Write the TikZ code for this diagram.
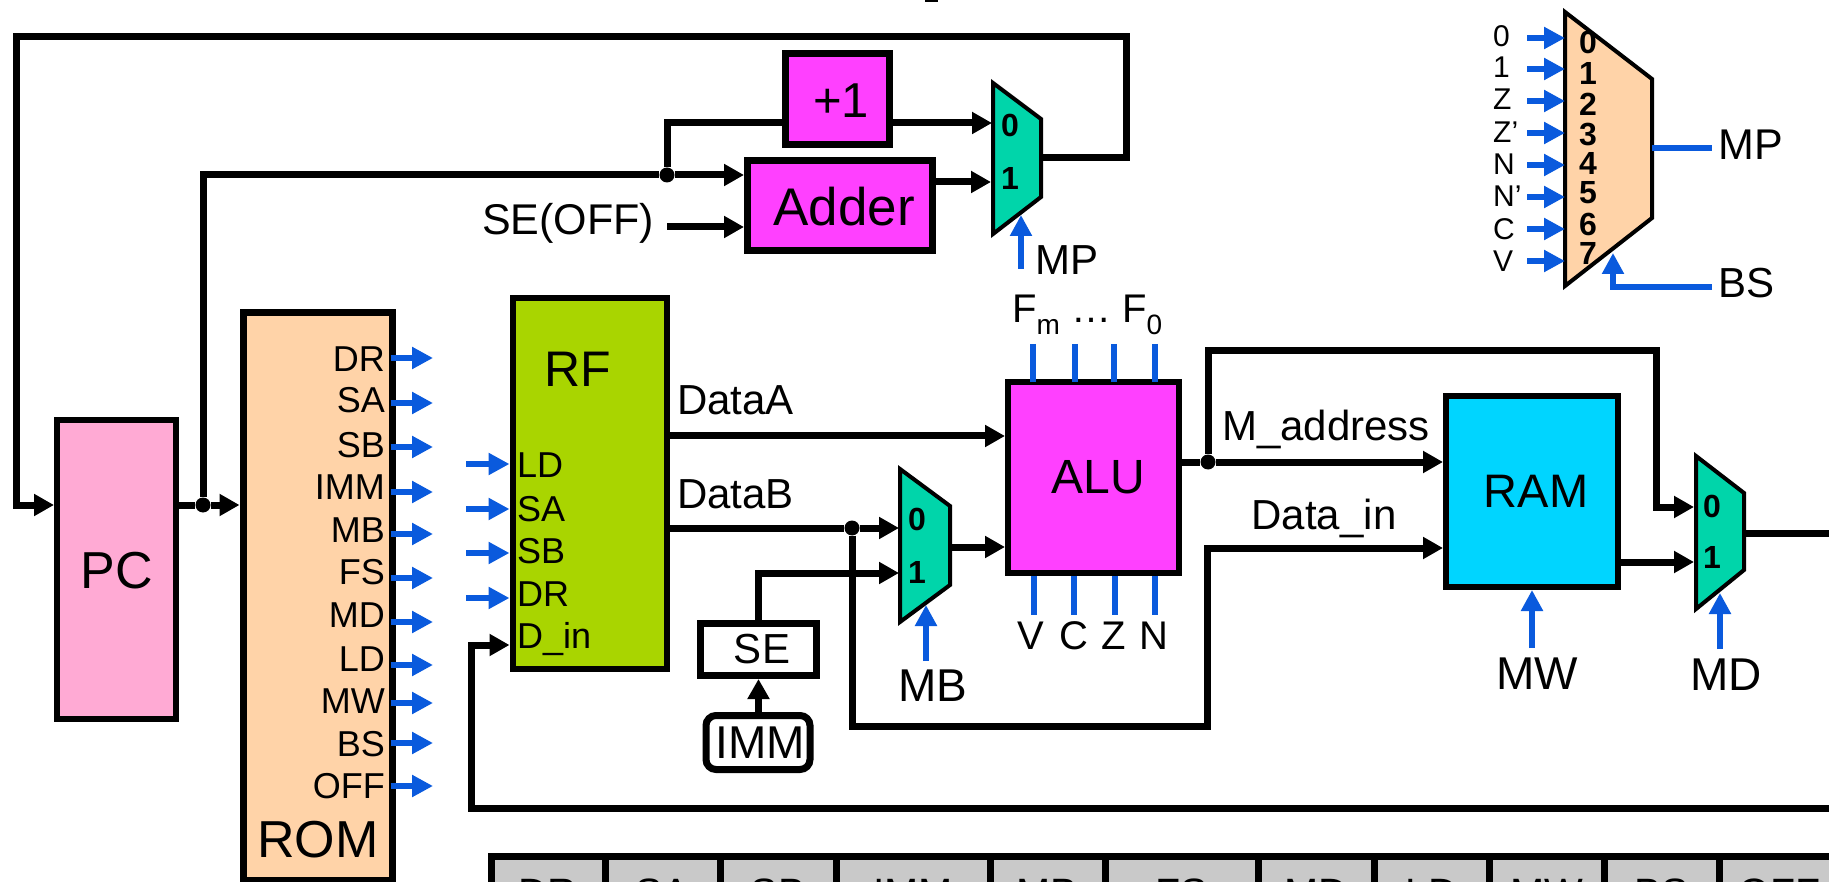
\documentclass[tikz,border=0pt]{standalone}
\usepackage{fontspec}
\setmainfont{Liberation Sans}
\usetikzlibrary{arrows.meta,positioning,calc}

\definecolor{pcpink}{HTML}{FFAAD4}
\definecolor{rompeach}{HTML}{FFD3A8}
\definecolor{rfgreen}{HTML}{A9D500}
\definecolor{alumagenta}{HTML}{FF40FF}
\definecolor{ramcyan}{HTML}{00D5FF}
\definecolor{muxgreen}{HTML}{00D5AA}
\definecolor{ctrlblue}{HTML}{0A5ADD}
\definecolor{cellgray}{HTML}{C9C9C9}

\tikzset{
	block/.style={draw=black, line width=6pt, inner sep=0pt},
	txt/.style={font=\fontsize{#1}{#1}\selectfont, inner sep=0pt, anchor=base},
	dgt/.style={font=\fontsize{32}{32}\selectfont\bfseries, inner sep=0pt, anchor=base},
	wire/.style={draw=black, line width=7pt},
	wirearrow/.style={wire, -{Triangle[length=20pt,width=21pt]}},
	ctrl/.style={draw=ctrlblue, line width=6.5pt},
	ctrlarrow/.style={ctrl, -{Triangle[length=21pt,width=21pt]}},
	joint/.style={circle, fill=black, inner sep=0pt, minimum size=15pt},
	muxbox/.style={draw=black, line width=4pt, fill=muxgreen},
}

\begin{document}
\begin{tikzpicture}[x=1pt,y=-1pt]

	\newcommand{\DrawMux}[7]{
		\draw [muxbox] (#2,#4) -- (#3,#5) -- (#3,#6) -- (#2,#7) -- cycle;
	}

	\useasboundingbox (0,0) rectangle (1829,882);
	\clip (0,0) rectangle (1829,882);

	% blocks
	\node [block, fill=pcpink, minimum width=119pt, minimum height=298pt] (PC) at (116.5,569.5) {};
	\node [block, line width=7pt, fill=rompeach, minimum width=149pt, minimum height=567pt] (ROM) at (317.5,596.5) {};
	\node [block, fill=rfgreen, minimum width=154pt, minimum height=371pt] (RF) at (589.5,483.5) {};
	\node [block, line width=7pt, fill=alumagenta, minimum width=104pt, minimum height=91pt] (Plus) at (837.5,99.5) {};
	\node [block, line width=7pt, fill=alumagenta, minimum width=185pt, minimum height=90pt] (Adder) at (840,206) {};
	\node [block, fill=alumagenta, minimum width=171pt, minimum height=191pt] (ALU) at (1093.5,477.5) {};
	\node [block, fill=ramcyan, minimum width=172pt, minimum height=191pt] (RAM) at (1532,491.5) {};
	\node [block, line width=7pt, fill=white, minimum width=116pt, minimum height=52pt] (SE) at (758.5,649.5) {};
	\node [block, line width=7pt, fill=white, rounded corners=10pt, minimum width=104pt, minimum height=54pt] (IMM) at (758,742.5) {};

	\node [txt=52] (PCtext) at (117,588) {PC};
	\node [txt=52] (ROMtext) at (318,857) {ROM};
	\node [txt=50] (RFtext) at (578,387) {RF};
	\node [txt=49] (Plustext) at (841,118) {+1};
	\node [txt=53] (Addertext) at (844,226) {Adder};
	\node [txt=48] (ALUtext) at (1098,493) {ALU};
	\node [txt=47] (RAMtext) at (1536,507) {RAM};
	\node [txt=42] (SEtext) at (762,663) {SE};
	\node [txt=46] (IMMtext) at (760,758) {IMM};

	% muxes
	\DrawMux{mxa}{993}{1041}{83}{119}{197}{234}
	\DrawMux{mxb}{900}{950}{469}{506}{585}{622}
	\DrawMux{mxc}{1696}{1744}{456}{493}{570}{609}
	\draw [muxbox, fill=rompeach] (1565,12) -- (1652,79) -- (1652,218) -- (1565,286) -- cycle;

	\foreach \dg/\mx/\bl in {0/1010/137, 1/1010/190, 0/917/530, 1/917/583, 0/1712/517, 1/1712/568}
		\node [dgt] at (\mx,\bl) {\dg};
	\foreach \dg/\bl in {0/54, 1/85, 2/116, 3/146, 4/175, 5/204, 6/236, 7/265}
		\node [dgt] (sel\dg) at (1588,\bl) {\dg};

	% points on the wires
	\node [joint] (pcdot) at (203,505) {};
	\node [joint] (adddot) at (667,175) {};
	\node [joint] (bdot) at (852,528) {};
	\node [joint] (adot) at (1208,462) {};
	\coordinate (topL) at (16,37);
	\coordinate (topR) at (1126,37);
	\coordinate (mxaOut) at (1041,158);
	\coordinate (mxaIn0) at (992,123);
	\coordinate (mxaIn1) at (991,182);
	\coordinate (offTail) at (667,227);
	\coordinate (aluA) at (1005,436);
	\coordinate (mxbIn0) at (899,528);
	\coordinate (mxbIn1) at (899,573);
	\coordinate (mxbOut) at (950,547);
	\coordinate (dinA) at (1207,726);
	\coordinate (dinB) at (1207,548);
	\coordinate (fbA) at (1208,351);
	\coordinate (fbB) at (1656,351);
	\coordinate (mxcIn0) at (1694,507);
	\coordinate (mxcIn1) at (1694,562);
	\coordinate (mxcOut) at (1744,533);
	\coordinate (outEnd) at (1829,533);
	\coordinate (backEnd) at (1829,808);
	\coordinate (backUp) at (471,808);
	\coordinate (backIn) at (471,645);

	% black wires
	\draw [wirearrow] (mxaOut) -- (topR |- mxaOut) -- (topR) -- (topL) -- (topL |- pcdot) -- (PC.west |- pcdot);
	\draw [wire] (PC.east |- pcdot) -- (pcdot);
	\draw [wirearrow] (pcdot) -- (ROM.west |- pcdot);
	\draw [wire] (pcdot) |- (adddot);
	\draw [wirearrow] (adddot) -- (Adder.west |- adddot);
	\draw [wire] (adddot) |- (Plus.west |- mxaIn0);
	\draw [wirearrow] (Plus.east |- mxaIn0) -- (mxaIn0);
	\draw [wirearrow] (Adder.east |- mxaIn1) -- (mxaIn1);
	\draw [wirearrow] (offTail) -- (Adder.west |- offTail);

	\draw [wirearrow] (RF.east |- aluA) -- (aluA);
	\draw [wire] (RF.east |- bdot) -- (bdot);
	\draw [wirearrow] (bdot) -- (mxbIn0);
	\draw [wirearrow] (bdot) -- (bdot |- dinA) -- (dinA) -- (dinB) -- (RAM.west |- dinB);
	\draw [wirearrow] (SE.south |- IMM.north) -- (SE.south);
	\draw [wirearrow] (SE.north) |- (mxbIn1);
	\draw [wirearrow] (mxbOut) -- (ALU.west |- mxbOut);
	\draw [wire] (ALU.east |- adot) -- (adot);
	\draw [wirearrow] (adot) -- (RAM.west |- adot);
	\draw [wirearrow] (adot) -- (fbA) -- (fbB) -- (fbB |- mxcIn0) -- (mxcIn0);
	\draw [wirearrow] (RAM.east |- mxcIn1) -- (mxcIn1);
	\draw [wire] (mxcOut) -- (outEnd);
	\draw [wirearrow] (backEnd) -- (backUp) -- (backIn) -- (RF.west |- backIn);

	% control signals out of the ROM
	\foreach \nm/\bl/\ay in {DR/372/358, SA/413/403, SB/457/447, IMM/499/492, MB/542/534, FS/584/578, MD/627/622, LD/671/665, MW/713/703, BS/756/743, OFF/798/786}{
		\node [txt=36, anchor=base east] (rom\nm) at (385,\bl) {\nm};
		\coordinate (romTip\nm) at (433,\ay);
		\draw [ctrlarrow] ([xshift=-5pt]ROM.east |- romTip\nm) -- (romTip\nm);
	}

	% register file ports
	\foreach \nm/\bl in {LD/478, SA/521, SB/563, DR/606}
		\node [txt=36, anchor=base west] (rf\nm) at (517,\bl) {\nm};
	\node [txt=36, anchor=base west] (rfDin) at (517,648) {D\_in};
	\foreach \nm/\ay in {LD/464, SA/509, SB/553, DR/598}{
		\coordinate (rfTail\nm) at (466,\ay);
		\draw [ctrlarrow] (rfTail\nm) -- (RF.west |- rfTail\nm);
	}

	% data labels
	\node [txt=43] (seoff) at (568,235) {SE(OFF)};
	\node [txt=42, anchor=base west] (dataA) at (677,415) {DataA};
	\node [txt=42, anchor=base west] (dataB) at (677,508) {DataB};
	\node [txt=42] (maddr) at (1326,441) {M\_address};
	\node [txt=42] (datain) at (1324,529) {Data\_in};

	% select lines
	\node [txt=42] (mpA) at (1067,275) {MP};
	\node [txt=46] (mbA) at (933,701) {MB};
	\node [txt=46] (mwA) at (1537,689) {MW};
	\node [txt=46] (mdA) at (1726,690) {MD};
	\coordinate (mpTail) at (1021,269);
	\coordinate (mpTip) at (1021,215);
	\coordinate (mbTail) at (926,661);
	\coordinate (mbTip) at (926,605);
	\coordinate (mdTail) at (1720,649);
	\coordinate (mdTip) at (1720,593);
	\coordinate (mwTail) at (1532,648);
	\draw [ctrlarrow] (mpTail) -- (mpTip);
	\draw [ctrlarrow] (mbTail) -- (mbTip);
	\draw [ctrlarrow] (mdTail) -- (mdTip);
	\draw [ctrlarrow] (mwTail) -- (RAM.south);

	% ALU function and flag lines
	\node [txt=40, anchor=base west] (fsel) at (1012,323) {F\raisebox{-12pt}{\fontsize{28}{28}\selectfont m} … F\raisebox{-12pt}{\fontsize{28}{28}\selectfont 0}};
	\foreach \i/\fx in {1/1033, 2/1075, 3/1114, 4/1155}{
		\coordinate (fn\i) at (\fx,344);
		\draw [ctrl] (fn\i) -- ([yshift=-3pt]ALU.north -| fn\i);
	}
	\foreach \nm/\tx/\fx in {V/1031/1034, C/1074/1074, Z/1114/1115, N/1154/1155}{
		\node [txt=40] (flag\nm) at (\tx,649) {\nm};
		\coordinate (flagEnd\nm) at (\fx,615);
		\draw [ctrl] (ALU.south -| flagEnd\nm) -- (flagEnd\nm);
	}

	% branch mux inputs and outputs
	\foreach \i/\nm/\bl/\ay in {a/0/47/38, b/1/78/69, c/Z/110/101, d/Z’/143/133, e/N/175/165, f/N’/207/197, g/C/240/229, h/V/272/261}{
		\node [txt=30, anchor=base west] (in\i) at (1493,\bl) {\nm};
		\coordinate (inTail\i) at (1527,\ay);
		\coordinate (inTip\i) at (1565,\ay);
		\draw [ctrlarrow] (inTail\i) -- (inTip\i);
	}
	\node [txt=43, anchor=base west] (mpB) at (1718,160) {MP};
	\node [txt=42, anchor=base west] (bsB) at (1718,298) {BS};
	\coordinate (mpOutS) at (1652,148);
	\coordinate (mpOutE) at (1712,148);
	\coordinate (bsTail) at (1712,287);
	\coordinate (bsTip) at (1613,253);
	\draw [ctrl] (mpOutS) -- (mpOutE);
	\draw [ctrlarrow] (bsTail) -| (bsTip);

	% table along the lower edge
	\foreach \cl/\cr/\nm in {491/605/DR, 605/720/SA, 720/836/SB, 836/990/IMM, 990/1105/MB, 1105/1258/FS, 1258/1374/MD, 1374/1489/LD, 1489/1604/MW, 1604/1719/BS, 1719/1840/OFF}{
		\draw [line width=7pt, fill=cellgray] (\cl,856.5) rectangle (\cr,930);
		\node [txt=41] (cell\nm) at ({(\cl+\cr)/2},907) {\nm};
	}

	% cut-off mark at the upper edge
	\fill (925,0) rectangle (938,2);

\end{tikzpicture}
\end{document}
